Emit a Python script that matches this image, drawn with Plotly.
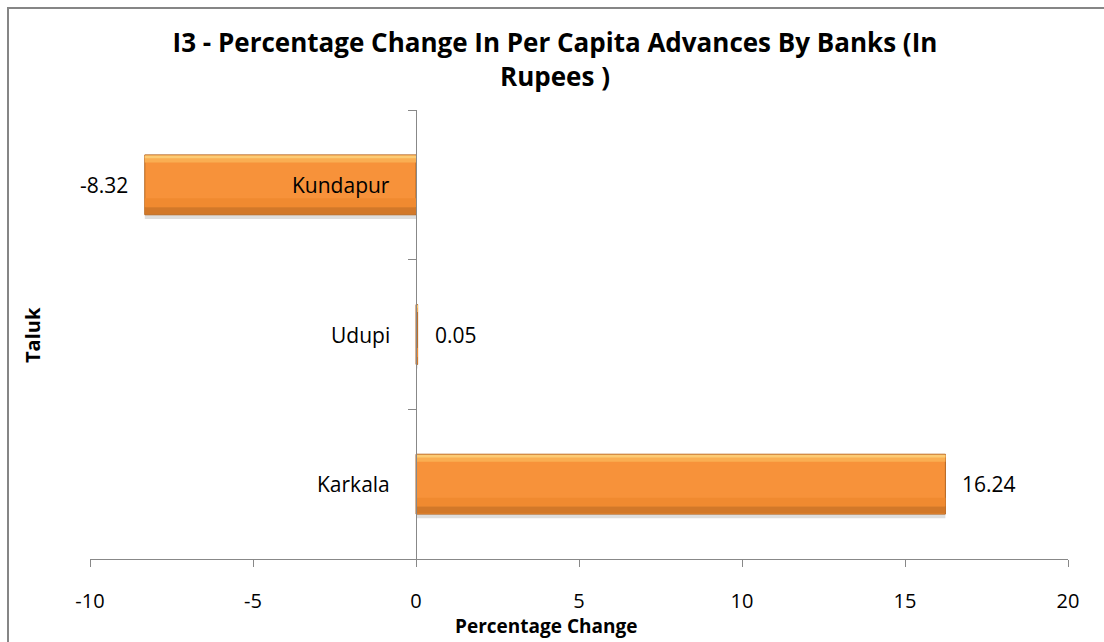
import plotly.graph_objects as go

# Taluk-wise percentage change in per capita advances by banks
talukas = ["Karkala", "Udupi", "Kundapur"]
pct_change = [16.24, 0.05, -8.32]

x_ticks = [-10, -5, 0, 5, 10, 15, 20]
x_tick_labels = ["-10", "-5", "0", "5", "10", "15", "20"]

FONT = "Open Sans"
AXIS_GREY = "#888888"

# plot area in pixels (used to place paper-referenced items)
W, H = 1104, 642
L, R, T, B = 90, 36, 110, 83
PW, PH = W - L - R, H - T - B


def px_to_paper(px, py):
    return (px - L) / PW, (H - B - py) / PH


# Layered strips give each bar a bevelled, glossy orange look:
# (offset, width, fill colour) in category units, the bar spans -0.2..0.2
bar_layers = [
    (-0.228, 0.40, "rgba(0,0,0,0.13)"),   # soft drop shadow
    (-0.20, 0.40, "#F7923A"),             # body
    (-0.150, 0.06, "#F08A30"),            # lower body shade
    (-0.195, 0.045, "#D27829"),           # bottom bevel
    (0.150, 0.045, "#FAAE52"),            # upper highlight
    (0.178, 0.018, "#FCCB74"),            # top bevel edge
]

fig = go.Figure()
for i, (off, w, col) in enumerate(bar_layers):
    fig.add_trace(go.Bar(
        x=pct_change,
        y=talukas,
        orientation="h",
        offset=off,
        width=w,
        marker=dict(
            color=col,
            line=dict(color="#B5651F", width=1) if i == 1 else dict(width=0),
        ),
        hoverinfo="skip" if i != 1 else "x+y",
        showlegend=False,
    ))

annotations = []
# category labels sit just left of the zero axis
for name in talukas:
    annotations.append(dict(
        x=0, y=name, xref="x", yref="y",
        text=name, showarrow=False,
        xanchor="right", yanchor="middle", xshift=-24,
        font=dict(family=FONT, size=21, color="#000000"),
    ))
# value labels just beyond the end of each bar
for name, v in zip(talukas, pct_change):
    annotations.append(dict(
        x=v, y=name, xref="x", yref="y",
        text=f"{v:.2f}", showarrow=False,
        xanchor="left" if v >= 0 else "right",
        yanchor="middle", xshift=15 if v >= 0 else -15,
        font=dict(family=FONT, size=21, color="#000000"),
    ))

# axis titles
ax, ay = px_to_paper(546, 626)
annotations.append(dict(
    x=ax, y=ay, xref="paper", yref="paper",
    text="<b>Percentage Change</b>", showarrow=False,
    xanchor="center", yanchor="middle",
    font=dict(family=FONT, size=19, color="#000000"),
))
tx, ty = px_to_paper(32, 335)
annotations.append(dict(
    x=tx, y=ty, xref="paper", yref="paper",
    text="<b>Taluk</b>", showarrow=False, textangle=-90,
    xanchor="center", yanchor="middle",
    font=dict(family=FONT, size=20, color="#000000"),
))

bx0, by0 = px_to_paper(8, 660)
bx1, by1 = px_to_paper(1120, 8)

fig.update_layout(
    width=W, height=H,
    margin=dict(l=L, r=R, t=T, b=B),
    paper_bgcolor="white", plot_bgcolor="white",
    barmode="overlay",
    title=dict(
        text="<b>I3 - Percentage Change In Per Capita Advances By Banks (In<br>Rupees )</b>",
        x=555 / W, xanchor="center", xref="container",
        y=1 - 52 / H, yanchor="middle", yref="container",
        font=dict(family=FONT, size=26, color="#000000"),
    ),
    xaxis=dict(
        range=[-10, 20], tickvals=x_ticks, ticktext=x_tick_labels,
        showgrid=False, zeroline=False,
        showline=True, linecolor=AXIS_GREY, linewidth=1,
        ticks="outside", ticklen=7, tickcolor=AXIS_GREY, tickwidth=1,
        ticklabelstandoff=17,
        tickfont=dict(family=FONT, size=20, color="#000000"),
    ),
    yaxis=dict(
        type="category", categoryarray=talukas, range=[-0.5, 2.5],
        anchor="free", position=1 / 3,
        showgrid=False, zeroline=False,
        showline=True, linecolor=AXIS_GREY, linewidth=1,
        ticks="outside", tickson="boundaries", ticklen=8,
        tickcolor=AXIS_GREY, tickwidth=1,
        showticklabels=False,
        title=None,
    ),
    annotations=annotations,
    shapes=[dict(
        type="rect", xref="paper", yref="paper",
        x0=bx0, x1=bx1, y0=by0, y1=by1,
        line=dict(color="#868686", width=2), fillcolor="rgba(0,0,0,0)",
        layer="below",
    )],
)

fig.write_html("out.html")
